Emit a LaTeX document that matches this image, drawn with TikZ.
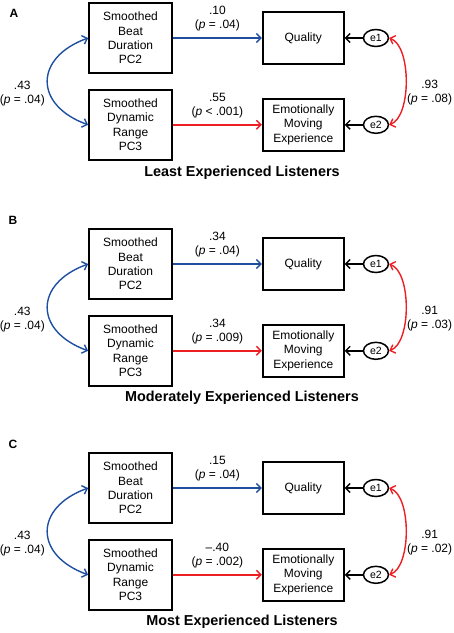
\documentclass[tikz,border=0pt]{standalone}
\usepackage{fontspec}
\setmainfont{Liberation Sans}
\usetikzlibrary{positioning, arrows.meta, shapes.geometric}
\definecolor{pathblue}{RGB}{30,78,160}
\definecolor{pathred}{RGB}{237,30,36}
\tikzstyle{block} = [rectangle, draw, line width=1.8bp, text centered, align=center, minimum width=83bp, minimum height=70bp, inner sep=1bp]
\tikzstyle{outcome} = [block, minimum width=81bp, minimum height=52bp]
\tikzstyle{err} = [ellipse, draw, line width=1.5bp, minimum width=25bp, minimum height=17bp, inner sep=0pt, font=\fontsize{10.5bp}{12bp}\selectfont]
\tikzstyle{line} = [draw, line width=1.4bp, -{Straight Barb[length=4.5bp,width=9bp]}]
\tikzstyle{cov} = [draw, line width=1.4bp, {Straight Barb[length=4.5bp,width=9bp]}-{Straight Barb[length=4.5bp,width=9bp]}]
\tikzstyle{coef} = [align=center, inner sep=2bp, text=black]
\tikzstyle{panel} = [font=\fontsize{12bp}{14bp}\bfseries\selectfont]
\tikzstyle{heading} = [font=\fontsize{14.4bp}{17bp}\bfseries\selectfont]

\begin{document}
\begin{tikzpicture}[x=1bp, y=-1bp, node distance=15bp, font=\fontsize{12bp}{14.3bp}\selectfont]
    \useasboundingbox (0,0) rectangle (454,633);

    % panel A
    \begin{scope}
    \node (letterA) [panel] at (14,13) {A};
    \node (beatA) [block] at (130.5,38) {Smoothed\\Beat\\Duration\\PC2};
    \node (rangeA) [block, below=of beatA] {Smoothed\\Dynamic\\Range\\PC3};
    \node (qualityA) [outcome, right=89bp of beatA] {Quality};
    \node (movingA) [outcome, right=89bp of rangeA] {Emotionally\\Moving\\Experience};
    \node (e1A) [err, right=18bp of qualityA] {e1};
    \node (e2A) [err, right=18bp of movingA] {e2};
    \node (titleA) [heading] at (242,173) {Least Experienced Listeners};

    \path [line, pathblue] (beatA) -- node[coef, above=4bp] {.10\\(\textit{p} = .04)} (qualityA);
    \path [line, pathred] (rangeA) -- node[coef, above=4bp] {.55\\(\textit{p} < .001)} (movingA);
    \path [line] (e1A) -- (qualityA);
    \path [line] (e2A) -- (movingA);
    \path [cov, pathblue] (beatA.west) to[out=200, in=160, looseness=1.7] node[coef, left, yshift=-12bp] {.43\\(\textit{p} = .04)} (rangeA.west);
    \path [cov, pathred] (e1A.east) to[out=-20, in=20, looseness=0.7] node[coef, right, inner sep=0.5bp, yshift=-11bp] {.93\\(\textit{p} = .08)} (e2A.east);
    \end{scope}

    % panel B
    \begin{scope}[yshift=-226bp]
    \node (letterB) [panel] at (13,-6) {B};
    \node (beatB) [block] at (130.5,38) {Smoothed\\Beat\\Duration\\PC2};
    \node (rangeB) [block, below=of beatB] {Smoothed\\Dynamic\\Range\\PC3};
    \node (qualityB) [outcome, right=89bp of beatB] {Quality};
    \node (movingB) [outcome, right=89bp of rangeB] {Emotionally\\Moving\\Experience};
    \node (e1B) [err, right=18bp of qualityB] {e1};
    \node (e2B) [err, right=18bp of movingB] {e2};
    \node (titleB) [heading] at (242,172) {Moderately Experienced Listeners};

    \path [line, pathblue] (beatB) -- node[coef, above=4bp] {.34\\(\textit{p} = .04)} (qualityB);
    \path [line, pathred] (rangeB) -- node[coef, above=4bp] {.34\\(\textit{p} = .009)} (movingB);
    \path [line] (e1B) -- (qualityB);
    \path [line] (e2B) -- (movingB);
    \path [cov, pathblue] (beatB.west) to[out=200, in=160, looseness=1.7] node[coef, left, yshift=-12bp] {.43\\(\textit{p} = .04)} (rangeB.west);
    \path [cov, pathred] (e1B.east) to[out=-20, in=20, looseness=0.7] node[coef, right, inner sep=0.5bp, yshift=-11bp] {.91\\(\textit{p} = .03)} (e2B.east);
    \end{scope}

    % panel C
    \begin{scope}[yshift=-450bp]
    \node (letterC) [panel] at (13,-6) {C};
    \node (beatC) [block] at (130.5,38) {Smoothed\\Beat\\Duration\\PC2};
    \node (rangeC) [block, below=of beatC] {Smoothed\\Dynamic\\Range\\PC3};
    \node (qualityC) [outcome, right=89bp of beatC] {Quality};
    \node (movingC) [outcome, right=89bp of rangeC] {Emotionally\\Moving\\Experience};
    \node (e1C) [err, right=18bp of qualityC] {e1};
    \node (e2C) [err, right=18bp of movingC] {e2};
    \node (titleC) [heading] at (242,172) {Most Experienced Listeners};

    \path [line, pathblue] (beatC) -- node[coef, above=4bp] {.15\\(\textit{p} = .04)} (qualityC);
    \path [line, pathred] (rangeC) -- node[coef, above=4bp] {–.40\\(\textit{p} = .002)} (movingC);
    \path [line] (e1C) -- (qualityC);
    \path [line] (e2C) -- (movingC);
    \path [cov, pathblue] (beatC.west) to[out=200, in=160, looseness=1.7] node[coef, left, yshift=-12bp] {.43\\(\textit{p} = .04)} (rangeC.west);
    \path [cov, pathred] (e1C.east) to[out=-20, in=20, looseness=0.7] node[coef, right, inner sep=0.5bp, yshift=-11bp] {.91\\(\textit{p} = .02)} (e2C.east);
    \end{scope}

\end{tikzpicture}
\end{document}
